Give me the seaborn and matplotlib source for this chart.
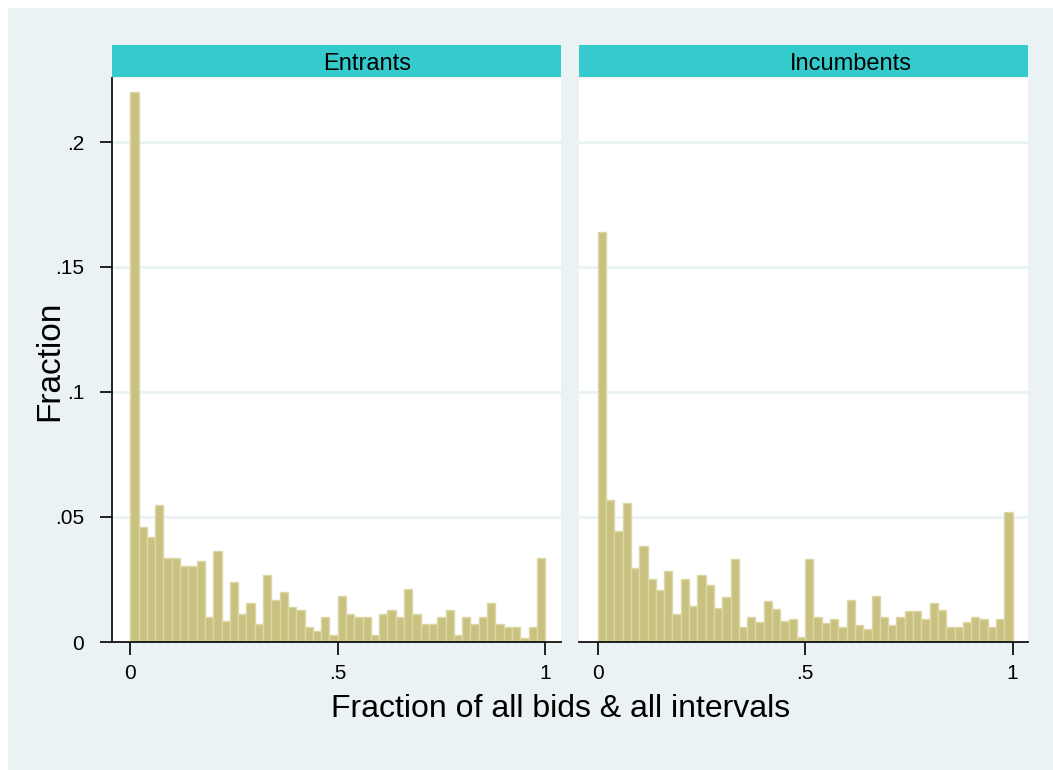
import numpy as np
import pandas as pd
import matplotlib
matplotlib.use("Agg")
import matplotlib.pyplot as plt
import seaborn as sns
from matplotlib.patches import Rectangle

# Share of bids falling in each 0.02-wide interval, by bidder type
groups = ["Entrants", "Incumbents"]
bin_edges = np.linspace(0, 1, 51)
entrants = [0.220, 0.0461, 0.0419, 0.0547, 0.0335, 0.0335, 0.0305, 0.0305, 0.0324, 0.0100,
            0.0364, 0.0085, 0.0239, 0.0113, 0.0155, 0.0072, 0.0267, 0.0169, 0.0199, 0.0141,
            0.0127, 0.0059, 0.0044, 0.0100, 0.0029, 0.0183, 0.0113, 0.0100, 0.0100, 0.0029,
            0.0113, 0.0127, 0.0100, 0.0212, 0.0113, 0.0073, 0.0073, 0.0100, 0.0127, 0.0029,
            0.0100, 0.0073, 0.0100, 0.0155, 0.0073, 0.0059, 0.0059, 0.0016, 0.0059, 0.0335]
incumbents = [0.164, 0.0569, 0.0443, 0.0556, 0.0295, 0.0383, 0.0252, 0.0208, 0.0283, 0.0112,
              0.0251, 0.0143, 0.0269, 0.0227, 0.0136, 0.0180, 0.0331, 0.0061, 0.0101, 0.0079,
              0.0163, 0.0132, 0.0083, 0.0092, 0.0019, 0.0331, 0.0100, 0.0075, 0.0092, 0.0061,
              0.0169, 0.0067, 0.0053, 0.0183, 0.0100, 0.0067, 0.0100, 0.0123, 0.0123, 0.0092,
              0.0156, 0.0127, 0.0061, 0.0061, 0.0079, 0.0100, 0.0092, 0.0061, 0.0092, 0.0520]
y_ticks = [0, 0.05, 0.1, 0.15, 0.2]
y_tick_labels = ["0", ".05", ".1", ".15", ".2"]
x_ticks = [0, 0.5, 1]
x_tick_labels = ["0", ".5", "1"]

centers = (bin_edges[:-1] + bin_edges[1:]) / 2
df = pd.concat(
    [pd.DataFrame({"group": g, "x": centers, "fraction": v})
     for g, v in zip(groups, [entrants, incumbents])],
    ignore_index=True,
)

BG = "#EAF2F3"
STRIP = "#35CACB"
BAR = "#C9C17F"
BAR_EDGE = "#DDD6A6"
INK = "#111111"

sns.set_style("white")
plt.rcParams["font.family"] = ["Liberation Sans", "DejaVu Sans"]
plt.rcParams["text.color"] = "black"
plt.rcParams["xtick.color"] = "black"
plt.rcParams["ytick.color"] = "black"
plt.rcParams["axes.labelcolor"] = "black"

g = sns.FacetGrid(df, col="group", col_order=groups, sharex=True, sharey=True,
                  height=5, aspect=1)
g.map_dataframe(sns.histplot, x="x", weights="fraction", bins=len(bin_edges) - 1,
                binrange=(bin_edges[0], bin_edges[-1]), stat="count", color=BAR,
                edgecolor=BAR_EDGE, linewidth=1.0, alpha=1)

fig = g.figure
fig.set_size_inches(10.53, 7.70)
fig.set_dpi(100)
W, H = 1053, 770
fig.subplots_adjust(left=112 / W, right=1028 / W, bottom=1 - 642 / H,
                    top=1 - 78 / H, wspace=19 / 449)
fig.patch.set_facecolor("white")
fig.add_artist(Rectangle((8 / W, 0), 1 - 8 / W, 1 - 8 / H, transform=fig.transFigure,
                         facecolor=BG, edgecolor="none", zorder=-10))

ax_h = 564.0
ax_w = 449.0
for i, (ax, title) in enumerate(zip(g.axes.flat, groups)):
    ax.set_facecolor("white")
    ax.set_title("")
    ax.set_xlabel("")
    ax.set_ylabel("")
    ax.set_xlim(-0.044, 1.037)
    ax.set_ylim(0, 0.2256)
    ax.set_axisbelow(True)
    ax.yaxis.grid(True, color=BG, linewidth=2)
    ax.xaxis.grid(False)
    ax.set_xticks(x_ticks)
    ax.set_xticklabels(x_tick_labels)
    ax.set_yticks(y_ticks)
    ax.set_yticklabels(y_tick_labels)
    for side in ["top", "right"]:
        ax.spines[side].set_visible(False)
    ax.spines["bottom"].set_color(INK)
    ax.spines["bottom"].set_linewidth(1.3)
    ax.tick_params(axis="x", bottom=True, direction="out", length=9, width=1.3,
                   color=INK, labelcolor="black", labelsize=15, pad=7)
    if i == 0:
        ax.spines["left"].set_visible(True)
        ax.spines["left"].set_color(INK)
        ax.spines["left"].set_linewidth(1.3)
        ax.tick_params(axis="y", left=True, direction="out", length=9, width=1.3,
                       color=INK, labelcolor="black", labelsize=15, pad=11)
    else:
        ax.spines["left"].set_visible(False)
        ax.tick_params(axis="y", left=False, labelleft=False)
    ax.add_patch(Rectangle((0, 1 + 1 / ax_h), 1, 32 / ax_h, transform=ax.transAxes,
                           clip_on=False, facecolor=STRIP, edgecolor="none"))
    ax.text(211 / ax_w, 1 + 8.4 / ax_h, title, transform=ax.transAxes, ha="left",
            va="baseline", fontsize=17, color="black")

fig.text(561 / W, 1 - 717 / H, "Fraction of all bids & all intervals",
         ha="center", va="baseline", fontsize=23, color="black")
fig.text(50 / W, 1 - 361 / H, "Fraction", rotation=90, ha="center", va="center",
         fontsize=24, color="black")

fig.savefig("out.png", dpi=100, facecolor=fig.get_facecolor())
